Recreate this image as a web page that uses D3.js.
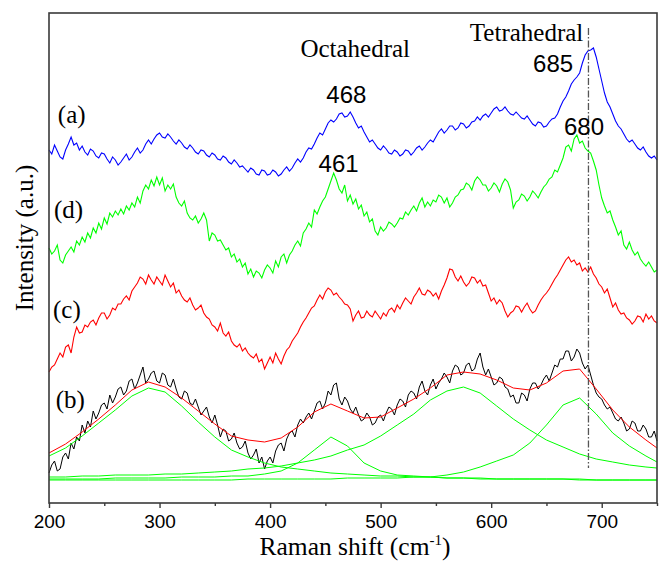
<!DOCTYPE html>
<html>
<head>
<meta charset="utf-8">
<script src="https://cdn.jsdelivr.net/npm/d3@7"></script>
<style>
  body { margin: 0; background: #fff; }
  svg { display: block; }
</style>
</head>
<body>
<div id="raman"></div>
<script>
// raman shift grid (cm-1) of the measured spectra and of the fit
var ramanShift = d3.range(200, 750.1, 2.5);
var fitShift = d3.range(200, 741, 15).concat([750]);

var specA = [353, 349, 358, 352, 346, 344, 353, 359, 366, 358, 360, 353, 357, 351, 348, 354, 352, 347, 345, 350,
    349, 344, 340, 346, 343, 338, 341, 345, 349, 343, 346, 351, 355, 350, 353, 359, 363, 359, 364, 368,
    370, 366, 365, 369, 366, 362, 359, 363, 360, 356, 354, 358, 355, 351, 349, 353, 352, 348, 346, 350,
    348, 344, 343, 347, 345, 341, 339, 343, 340, 336, 337, 334, 331, 335, 333, 329, 328, 333, 332, 328,
    329, 333, 331, 327, 329, 333, 336, 332, 335, 340, 344, 341, 345, 351, 355, 354, 359, 365, 370, 368,
    374, 380, 383, 381, 384, 389, 390, 386, 387, 391, 386, 380, 375, 377, 371, 366, 361, 363, 359, 355,
    353, 357, 354, 350, 349, 353, 351, 347, 349, 353, 352, 348, 351, 355, 357, 353, 356, 360, 363, 361,
    366, 371, 374, 370, 373, 377, 377, 373, 375, 380, 379, 375, 377, 381, 382, 386, 383, 387, 389, 386,
    390, 394, 396, 392, 393, 396, 392, 389, 388, 391, 388, 385, 384, 387, 383, 379, 377, 381, 380, 376,
    377, 381, 384, 385, 389, 396, 402, 406, 412, 419, 423, 426, 430, 440, 448, 452, 453, 455, 446, 434,
    422, 410, 401, 396, 389, 382, 377, 374, 369, 364, 361, 363, 359, 355, 353, 356, 351, 347, 345, 347,
    343];
var specD = [255, 249, 252, 258, 243, 240, 248, 252, 256, 251, 262, 258, 266, 261, 270, 265, 275, 270, 280, 274,
    285, 279, 290, 286, 292, 288, 294, 289, 297, 293, 300, 296, 306, 300, 312, 318, 314, 323, 317, 326,
    318, 325, 312, 318, 314, 319, 306, 300, 297, 302, 290, 285, 283, 287, 280, 284, 290, 283, 262, 270,
    268, 262, 263, 258, 253, 255, 246, 249, 241, 244, 236, 240, 229, 234, 226, 232, 230, 225, 233, 238,
    235, 230, 242, 236, 246, 249, 240, 248, 252, 258, 262, 257, 270, 274, 280, 276, 293, 289, 296, 302,
    306, 314, 322, 330, 323, 314, 310, 318, 302, 308, 299, 304, 294, 298, 287, 291, 281, 284, 272, 268,
    276, 272, 275, 281, 279, 276, 280, 285, 284, 291, 288, 293, 297, 292, 300, 305, 296, 301, 297, 303,
    301, 308, 306, 300, 305, 296, 300, 306, 308, 313, 314, 320, 318, 313, 322, 326, 323, 318, 318, 312,
    315, 320, 317, 311, 319, 324, 321, 313, 295, 301, 303, 309, 307, 302, 306, 312, 309, 305, 311, 316,
    319, 324, 326, 333, 331, 338, 345, 356, 358, 352, 364, 368, 360, 362, 355, 352, 350, 342, 333, 318,
    305, 297, 290, 292, 283, 276, 268, 272, 258, 254, 261, 253, 248, 251, 244, 240, 237, 241, 236, 231,
    233];
var specC = [131, 136, 138, 144, 150, 146, 156, 158, 150, 166, 176, 170, 171, 178, 176, 181, 183, 178, 185, 190,
    190, 184, 188, 195, 193, 199, 199, 204, 207, 203, 212, 216, 220, 226, 224, 219, 228, 223, 219, 226,
    222, 218, 228, 222, 216, 220, 210, 213, 207, 203, 201, 205, 198, 193, 195, 198, 190, 186, 184, 178,
    176, 172, 180, 170, 167, 171, 162, 158, 156, 159, 152, 155, 150, 147, 145, 149, 141, 144, 134, 140,
    146, 140, 150, 144, 139, 147, 153, 156, 162, 166, 170, 176, 181, 185, 190, 195, 197, 203, 208, 204,
    211, 215, 213, 208, 210, 206, 203, 199, 198, 194, 182, 188, 192, 185, 186, 192, 188, 186, 192, 188,
    184, 190, 187, 193, 195, 191, 198, 194, 200, 205, 202, 199, 206, 210, 215, 209, 208, 213, 211, 207,
    210, 204, 212, 218, 225, 234, 233, 226, 222, 227, 221, 217, 220, 226, 225, 220, 223, 217, 218, 210,
    202, 205, 199, 203, 200, 192, 186, 190, 192, 197, 196, 191, 196, 200, 194, 190, 192, 198, 203, 207,
    210, 214, 219, 224, 228, 233, 238, 243, 246, 241, 243, 238, 240, 232, 235, 231, 236, 229, 225, 219,
    216, 210, 214, 205, 196, 200, 193, 189, 190, 185, 183, 179, 182, 187, 186, 181, 189, 184, 187, 182,
    180];
var specB = [30, 38, 42, 32, 34, 46, 50, 44, 60, 54, 66, 62, 78, 70, 82, 76, 92, 84, 90, 98,
    100, 94, 108, 100, 106, 114, 116, 108, 112, 122, 124, 114, 120, 128, 136, 120, 124, 130, 132, 122,
    120, 130, 128, 118, 116, 124, 114, 106, 104, 112, 110, 100, 98, 104, 96, 88, 92, 96, 86, 80,
    88, 78, 66, 74, 72, 62, 64, 70, 60, 54, 56, 62, 50, 44, 48, 54, 40, 46, 34, 42,
    46, 40, 52, 58, 60, 52, 64, 70, 72, 66, 78, 84, 80, 86, 90, 84, 92, 100, 102, 94,
    100, 112, 108, 118, 120, 104, 98, 106, 102, 94, 90, 96, 88, 82, 84, 90, 86, 78, 80, 86,
    88, 82, 90, 96, 94, 88, 98, 104, 102, 96, 108, 112, 110, 104, 116, 122, 112, 108, 118, 124,
    114, 120, 124, 130, 126, 120, 132, 138, 136, 128, 130, 138, 140, 132, 134, 144, 150, 136, 128, 134,
    126, 118, 120, 126, 124, 116, 114, 106, 108, 100, 100, 110, 108, 102, 114, 120, 120, 114, 118, 124,
    128, 122, 130, 138, 136, 144, 144, 152, 152, 142, 146, 154, 150, 140, 134, 138, 128, 118, 110, 106,
    104, 98, 94, 96, 90, 84, 82, 86, 80, 72, 74, 82, 80, 72, 72, 78, 74, 66, 66, 72,
    62];

// fit of spectrum (b): envelope and four bands
var fitSum = [50, 59, 71, 84, 98, 113, 121, 116, 105, 92, 79, 67, 63, 61, 65, 76, 91, 99, 92, 85,
    86, 95, 104, 115, 128, 131, 129, 123, 115, 113, 120, 132, 134, 114, 93, 76, 63, 55];
var band290 = [47, 55, 67, 80, 93, 107, 115, 111, 97, 81, 66, 53, 46, 40, 36, 34, 32, 30, 29, 28,
    27, 27, 26, 26, 25, 25, 25, 24, 24, 24, 24, 24, 24, 23, 23, 23, 23, 23];
var band455 = [24, 24, 24, 24, 25, 25, 25, 25, 26, 26, 26, 27, 27, 29, 32, 40, 53, 66, 57, 40,
    32, 28, 27, 26, 25, 25, 24, 24, 24, 24, 24, 24, 23, 23, 23, 23, 23, 23];
var band575 = [26, 26, 27, 27, 28, 28, 28, 29, 29, 30, 31, 32, 34, 35, 37, 40, 43, 47, 53, 58,
    67, 78, 89, 103, 112, 116, 110, 97, 84, 73, 63, 56, 49, 44, 41, 38, 36, 35];
var band680 = [23, 23, 23, 23, 23, 23, 23, 23, 23, 23, 23, 23, 24, 24, 24, 24, 24, 24, 25, 25,
    25, 25, 26, 26, 28, 31, 36, 42, 48, 60, 78, 98, 105, 89, 70, 57, 47, 41];

var tetraLine = 688;
var peakLabels = ["468", "461", "685", "680"];

var margin = { top: 13, right: 3, bottom: 58, left: 49 },
    width = 660 - margin.left - margin.right,
    height = 561 - margin.top - margin.bottom;

var svg = d3.select("#raman")
    .append("svg")
    .attr("width", width + margin.left + margin.right)
    .attr("height", height + margin.top + margin.bottom)
    .append("g")
    .attr("transform", "translate(" + margin.left + "," + margin.top + ")");

var x = d3.scaleLinear().domain([200, 750]).range([0, width]);
var y = d3.scaleLinear().domain([0, 490]).range([height, 0]);

var serif = "'Liberation Serif', 'Times New Roman', serif";
var sans = "'Liberation Sans', Arial, sans-serif";

function pairs(xs, ys) {
    return ys.map(function (v, i) { return [xs[i], v]; });
}

var line = d3.line()
    .x(function (d) { return x(d[0]); })
    .y(function (d) { return y(d[1]); });

// measured (b) with its fit bands on top
svg.append("path")
    .datum(pairs(ramanShift, specB))
    .attr("d", line)
    .attr("fill", "none")
    .attr("stroke", "#000")
    .attr("stroke-width", 1);

[band290, band455, band575, band680].forEach(function (b) {
    svg.append("path")
        .datum(pairs(fitShift, b))
        .attr("d", line)
        .attr("fill", "none")
        .attr("stroke", "#00ff00")
        .attr("stroke-width", 1);
});

svg.append("path")
    .datum(pairs(fitShift, fitSum))
    .attr("d", line)
    .attr("fill", "none")
    .attr("stroke", "#ff0000")
    .attr("stroke-width", 1);

// the other spectra
var series = [
    { v: specC, color: "#ff0000" },
    { v: specD, color: "#00ff00" },
    { v: specA, color: "#0000ff" }
];
series.forEach(function (s) {
    svg.append("path")
        .datum(pairs(ramanShift, s.v))
        .attr("d", line)
        .attr("fill", "none")
        .attr("stroke", s.color)
        .attr("stroke-width", 1.1);
});

// tetrahedral marker
svg.append("line")
    .attr("x1", x(tetraLine)).attr("x2", x(tetraLine))
    .attr("y1", y(475)).attr("y2", y(35))
    .attr("stroke", "#555")
    .attr("stroke-width", 1.3)
    .attr("stroke-dasharray", "7,2,1.5,2");

// frame
svg.append("rect")
    .attr("x", 0).attr("y", 0)
    .attr("width", width).attr("height", height)
    .attr("fill", "none")
    .attr("stroke", "#3a3a3a")
    .attr("stroke-width", 1.6);

// x axis, major and minor ticks
var xAxis = svg.append("g")
    .attr("transform", "translate(0," + height + ")")
    .call(d3.axisBottom(x).tickValues([200, 300, 400, 500, 600, 700]).tickSize(5).tickPadding(7));
xAxis.select(".domain").remove();
xAxis.selectAll("line").attr("stroke", "#3a3a3a").attr("stroke-width", 1.4);
xAxis.selectAll("text")
    .style("font-family", sans)
    .style("font-size", "19px")
    .attr("fill", "#000");

var xMinor = svg.append("g")
    .attr("transform", "translate(0," + height + ")")
    .call(d3.axisBottom(x).tickValues([250, 350, 450, 550, 650, 750]).tickSize(3).tickFormat(""));
xMinor.select(".domain").remove();
xMinor.selectAll("line").attr("stroke", "#3a3a3a").attr("stroke-width", 1.4);

// axis titles
var xTitle = svg.append("text")
    .attr("x", width / 2 + 2)
    .attr("y", height + 52)
    .attr("text-anchor", "middle")
    .style("font-family", serif)
    .style("font-size", "25.5px")
    .text("Raman shift (cm");
xTitle.append("tspan").attr("dy", -10).style("font-size", "15px").text("-1");
xTitle.append("tspan").attr("dy", 10).text(")");

svg.append("text")
    .attr("transform", "translate(" + (33 - margin.left) + "," + (238 - margin.top) + ") rotate(-90)")
    .attr("text-anchor", "middle")
    .style("font-family", serif)
    .style("font-size", "25px")
    .text("Intensity (a.u.)");

// site labels
svg.append("text")
    .attr("x", x(477)).attr("y", y(446))
    .attr("text-anchor", "middle")
    .style("font-family", serif).style("font-size", "25px")
    .text("Octahedral");
svg.append("text")
    .attr("x", x(632)).attr("y", y(462))
    .attr("text-anchor", "middle")
    .style("font-family", serif).style("font-size", "25px")
    .text("Tetrahedral");

// peak positions
var peakAt = [[469, 400], [462, 331], [656, 431], [684, 368]];
peakLabels.forEach(function (t, i) {
    svg.append("text")
        .attr("x", x(peakAt[i][0])).attr("y", y(peakAt[i][1]))
        .attr("text-anchor", "middle")
        .style("font-family", sans).style("font-size", "24px")
        .text(t);
});

// curve labels
var tags = [["(a)", 208, 380], ["(d)", 204.5, 285], ["(c)", 203.6, 185], ["(b)", 206, 95]];
tags.forEach(function (t) {
    svg.append("text")
        .attr("x", x(t[1])).attr("y", y(t[2]))
        .style("font-family", serif).style("font-size", "25px")
        .text(t[0]);
});
</script>
</body>
</html>
